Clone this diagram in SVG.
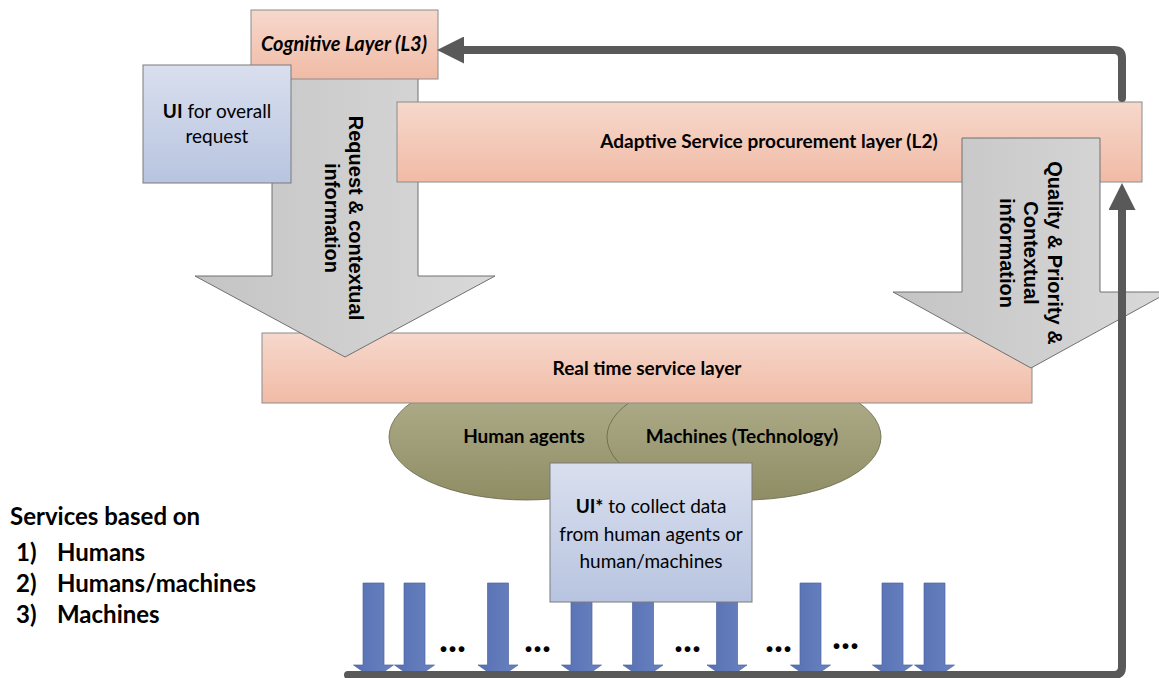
<svg xmlns="http://www.w3.org/2000/svg" width="1159" height="678" viewBox="0 0 1159 678">
<defs>
<linearGradient id="gPink" x1="0" y1="0" x2="0" y2="1"><stop offset="0" stop-color="#f6d8cc"/><stop offset="1" stop-color="#f1bba6"/></linearGradient>
<linearGradient id="gBlue" x1="0" y1="0" x2="0" y2="1"><stop offset="0" stop-color="#d9dfee"/><stop offset="1" stop-color="#b8c4e0"/></linearGradient>
<linearGradient id="gGray" x1="0" y1="0" x2="1" y2="0"><stop offset="0" stop-color="#c4c4c4"/><stop offset="1" stop-color="#d9d9d9"/></linearGradient>
<linearGradient id="gOlive" x1="0" y1="0" x2="0" y2="1"><stop offset="0" stop-color="#b4b290"/><stop offset="1" stop-color="#8f8d64"/></linearGradient>
<linearGradient id="gArrow" x1="0" y1="0" x2="1" y2="0"><stop offset="0" stop-color="#5670b3"/><stop offset="1" stop-color="#6982c0"/></linearGradient>
<path id="blueArrow" d="M-10.5,583 L10.5,583 L10.5,665 L20,665 L0,679 L-20,665 L-10.5,665 Z"/>
<marker id="head" markerUnits="userSpaceOnUse" markerWidth="27" markerHeight="27" viewBox="0 0 27 27" refX="1" refY="13.5" orient="auto">
<path d="M0,0 L27,13.5 L0,27 Z" fill="#595959"/>
</marker>
</defs>
<style>
.pink{fill:url(#gPink);stroke:#8c8c8c;stroke-width:1}
.blue{fill:url(#gBlue);stroke:#7a7a7a;stroke-width:1}
.gray{fill:url(#gGray);stroke:#707070;stroke-width:1}
.olive{fill:url(#gOlive);stroke:#66664a;stroke-width:0.8}
.barrow{fill:url(#gArrow);stroke:#4f66a0;stroke-width:0.7}
.cal{font-family:Lato,"Liberation Sans",sans-serif;font-size:19px;fill:#000}
.cog{font-size:20px;font-style:italic}
.leg{font-size:24px}
.b{font-weight:bold}
.mid{text-anchor:middle}
.rot{font-family:"Liberation Sans",Arial,sans-serif;font-weight:bold;font-size:20px;text-anchor:middle;fill:#000}
.conn{fill:none;stroke:#595959;stroke-width:8;stroke-linecap:round;stroke-linejoin:round}
.dots{font-family:Lato,"Liberation Sans",sans-serif;font-weight:bold;font-size:38px;fill:#000}
</style>
<rect width="1159" height="678" fill="#ffffff"/>

<g id="human-agents">
<ellipse class="olive" cx="526" cy="437" rx="137" ry="63"/>
</g>
<g id="machines">
<ellipse class="olive" cx="744" cy="437" rx="137" ry="63"/>
</g>
<g id="ellipse-labels">
<text class="cal b mid" x="524" y="443">Human agents</text>
<text class="cal b mid" x="742" y="443">Machines (Technology)</text>
</g>

<g id="service-arrows">
<use href="#blueArrow" class="barrow" x="373.5"/>
<use href="#blueArrow" class="barrow" x="414.5"/>
<use href="#blueArrow" class="barrow" x="498"/>
<use href="#blueArrow" class="barrow" x="581.5"/>
<use href="#blueArrow" class="barrow" x="643"/>
<use href="#blueArrow" class="barrow" x="727"/>
<use href="#blueArrow" class="barrow" x="810.5"/>
<use href="#blueArrow" class="barrow" x="892.5"/>
<use href="#blueArrow" class="barrow" x="934.5"/>
<text class="dots" x="439" y="652">...</text>
<text class="dots" x="524" y="652">...</text>
<text class="dots" x="674" y="652">...</text>
<text class="dots" x="765" y="652">...</text>
<text class="dots" x="832" y="649">...</text>
</g>

<g id="ui-collect">
<rect class="blue" x="550" y="463" width="202" height="139"/>
<text class="cal mid" x="651" y="513"><tspan class="b">UI*</tspan> to collect data</text>
<text class="cal mid" x="651" y="541">from human agents or</text>
<text class="cal mid" x="651" y="568">human/machines</text>
</g>

<g id="real-time-layer">
<rect class="pink" x="262" y="333" width="770" height="70"/>
<text class="cal b mid" x="647" y="375">Real time service layer</text>
</g>

<g id="request-arrow">
<path class="gray" d="M272,70 L418,70 L418,276 L495,276 L345,357 L195,276 L272,276 Z"/>
<text class="rot" transform="translate(349,218) rotate(90)">Request &amp; contextual</text>
<text class="rot" transform="translate(325,218) rotate(90)">information</text>
</g>

<g id="cognitive-layer">
<rect class="pink" x="251" y="10" width="187" height="69"/>
<text class="cal cog b mid" x="344" y="51">Cognitive Layer (L3)</text>
</g>

<g id="ui-overall">
<rect class="blue" x="143" y="65" width="148" height="118"/>
<text class="cal mid" x="217" y="118"><tspan class="b">UI</tspan> for overall</text>
<text class="cal mid" x="217" y="143">request</text>
</g>

<g id="adaptive-layer">
<rect class="pink" x="397" y="102" width="745" height="80"/>
<text class="cal b mid" x="769" y="148">Adaptive Service procurement layer (L2)</text>
</g>

<g id="quality-arrow">
<path class="gray" d="M962,138 L1100,138 L1100,292 L1169,292 L1031,368 L893,292 L962,292 Z"/>
<text class="rot" transform="translate(1048,253) rotate(90)">Quality &amp; Priority &amp;</text>
<text class="rot" transform="translate(1024,253) rotate(90)">Contextual</text>
<text class="rot" transform="translate(1000,253) rotate(90)">information</text>
</g>

<g id="connectors">
<path class="conn" d="M1122,98 L1122,58 Q1122,50 1114,50 L463,50" marker-end="url(#head)"/>
<path class="conn" d="M348,675 L1114,675 Q1122,675 1122,667 L1122,209" marker-end="url(#head)"/>
</g>

<g id="services-legend">
<text class="cal leg b" x="10" y="525">Services based on</text>
<text class="cal leg b" x="16" y="561">1)</text>
<text class="cal leg b" x="57" y="561">Humans</text>
<text class="cal leg b" x="16" y="592">2)</text>
<text class="cal leg b" x="57" y="592">Humans/machines</text>
<text class="cal leg b" x="16" y="623">3)</text>
<text class="cal leg b" x="57" y="623">Machines</text>
</g>
</svg>
